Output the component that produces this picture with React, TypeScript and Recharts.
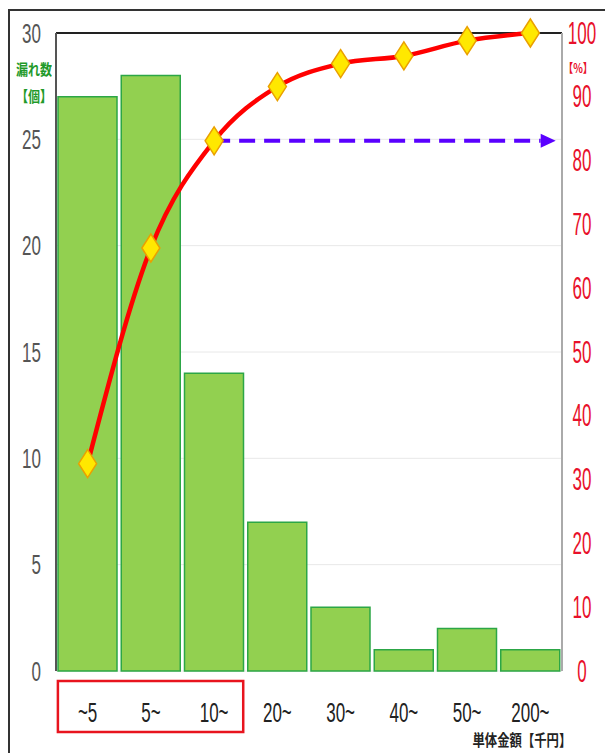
import {
  ComposedChart,
  Bar,
  Line,
  XAxis,
  YAxis,
  CartesianGrid,
  ReferenceLine,
  ReferenceArea,
} from 'recharts';

// 単体金額の区分ごとの漏れ数と累積比率
const categories = ['~5', '5~', '10~', '20~', '30~', '40~', '50~', '200~'];
const leakCounts = [27, 28, 14, 7, 3, 1, 2, 1];
const cumulativePct = [32.5, 66.3, 83.1, 91.6, 95.2, 96.4, 98.8, 100];
const countTicks = [0, 5, 10, 15, 20, 25, 30];
const pctTicks = [0, 10, 20, 30, 40, 50, 60, 70, 80, 90, 100];

const data = categories.map((name, i) => ({
  name,
  idx: i,
  count: leakCounts[i],
  pct: cumulativePct[i],
}));

const SANS = "'Liberation Sans', Arial, sans-serif";
const JP = "'Noto Sans CJK JP', sans-serif";

// 縦長の細い数字
const TallText = ({ x, y, anchor, fill, size, stretch, children }: any) => (
  <g transform={`translate(${x},${y}) scale(1,${stretch})`}>
    <text x={0} y={0} textAnchor={anchor} dominantBaseline="central" fill={fill} fontSize={size} fontFamily={SANS}>
      {children}
    </text>
  </g>
);

const LeftTick = ({ x, y, payload }: any) => (
  <TallText x={x} y={y} anchor="end" fill="#555" size={17} stretch={1.62}>
    {payload.value}
  </TallText>
);

const RightTick = ({ x, y, payload }: any) => (
  <TallText x={x + 17} y={y} anchor="middle" fill="#e8102a" size={17} stretch={1.8}>
    {payload.value}
  </TallText>
);

const BottomTick = ({ x, y, payload }: any) => (
  <TallText x={x} y={y} anchor="middle" fill="#222" size={17} stretch={1.6}>
    {payload.value}
  </TallText>
);

const Diamond = (props: any) => {
  const { cx, cy, index } = props;
  if (cx == null || cy == null) return <g key={index} />;
  const w = 9;
  const h = 14;
  return (
    <polygon
      key={index}
      points={`${cx},${cy - h} ${cx + w},${cy} ${cx},${cy + h} ${cx - w},${cy}`}
      fill="#ffe800"
      stroke="#eaa000"
      strokeWidth={1.5}
    />
  );
};

// 80% ラインを示す破線矢印
const DashedArrow = (props: any) => {
  const { x1, y1, x2, y2 } = props;
  const head = 15;
  return (
    <g>
      <line x1={x1} y1={y1} x2={x2 - head} y2={y2} stroke="#5a00ff" strokeWidth={4} strokeDasharray="16 9" />
      <polygon points={`${x2},${y2} ${x2 - head},${y2 - 7} ${x2 - head},${y2 + 7}`} fill="#5a00ff" />
    </g>
  );
};

export default function App() {
  return (
    <div style={{ position: 'absolute', left: 0, top: 0, width: 605, height: 753, background: '#fff', overflow: 'hidden' }}>
      <div
        style={{
          position: 'absolute',
          left: 8,
          top: 9,
          width: 620,
          height: 780,
          borderLeft: '2px solid #333',
          borderTop: '2px solid #333',
        }}
      />
      <ComposedChart
        width={605}
        height={753}
        data={data}
        margin={{ top: 33, right: 5, bottom: 7, left: 8 }}
        barCategoryGap={2}
        style={{ position: 'absolute', left: 0, top: 0 }}
      >
        <CartesianGrid yAxisId="left" vertical={false} stroke="#e8e8e8" />
        <XAxis
          dataKey="name"
          axisLine={false}
          tickLine={false}
          tickSize={0}
          tickMargin={41}
          height={75}
          tick={<BottomTick />}
          interval={0}
        />
        {/* 区分番号の数値軸（注釈の位置決め用） */}
        <XAxis xAxisId="pos" dataKey="idx" type="number" domain={[-0.5, 7.5]} allowDataOverflow hide />
        <YAxis
          yAxisId="left"
          domain={[0, 30]}
          ticks={countTicks}
          width={48}
          axisLine={{ stroke: '#555', strokeWidth: 2 }}
          tickLine={false}
          tickSize={0}
          tickMargin={15}
          tick={<LeftTick />}
          interval={0}
        />
        <YAxis
          yAxisId="right"
          orientation="right"
          domain={[0, 100]}
          ticks={pctTicks}
          width={38}
          axisLine={{ stroke: '#aaa', strokeWidth: 2 }}
          tickLine={false}
          tickSize={0}
          tickMargin={3}
          tick={<RightTick />}
          interval={0}
        />
        <Bar yAxisId="left" dataKey="count" fill="#92d050" stroke="#2ca646" strokeWidth={1.5} isAnimationActive={false} />
        <ReferenceLine yAxisId="left" y={30} stroke="#222" strokeWidth={2} />
        <Line
          yAxisId="right"
          dataKey="pct"
          type="monotone"
          stroke="#ff0000"
          strokeWidth={4.5}
          dot={Diamond}
          activeDot={false}
          isAnimationActive={false}
        />
        <ReferenceLine
          xAxisId="pos"
          yAxisId="right"
          ifOverflow="visible"
          segment={[
            { x: 2, y: cumulativePct[2] },
            { x: 7.4, y: cumulativePct[2] },
          ]}
          shape={<DashedArrow />}
        />
        <ReferenceArea
          xAxisId="pos"
          yAxisId="left"
          x1={-0.47}
          x2={2.46}
          y1={-0.47}
          y2={-2.87}
          ifOverflow="visible"
          fill="none"
          stroke="#e8141e"
          strokeWidth={2.5}
        />
      </ComposedChart>
      <div style={{ position: 'absolute', left: 12, top: 60, width: 44, textAlign: 'center', color: '#1f9a2a', fontFamily: JP, fontWeight: 700, fontSize: 12, lineHeight: '22px', transform: 'scale(1,1.25)' }}>
        漏れ数
        <br />
        【個】
      </div>
      <div style={{ position: 'absolute', left: 563, top: 60, width: 30, textAlign: 'center', color: '#e8102a', fontFamily: JP, fontWeight: 700, fontSize: 10, transform: 'scale(1,1.25)' }}>
        【%】
      </div>
      <div style={{ position: 'absolute', left: 470, top: 730, width: 100, textAlign: 'center', color: '#222', fontFamily: JP, fontWeight: 700, fontSize: 13, transform: 'scale(0.95,1.2)' }}>
        単体金額【千円】
      </div>
    </div>
  );
}
